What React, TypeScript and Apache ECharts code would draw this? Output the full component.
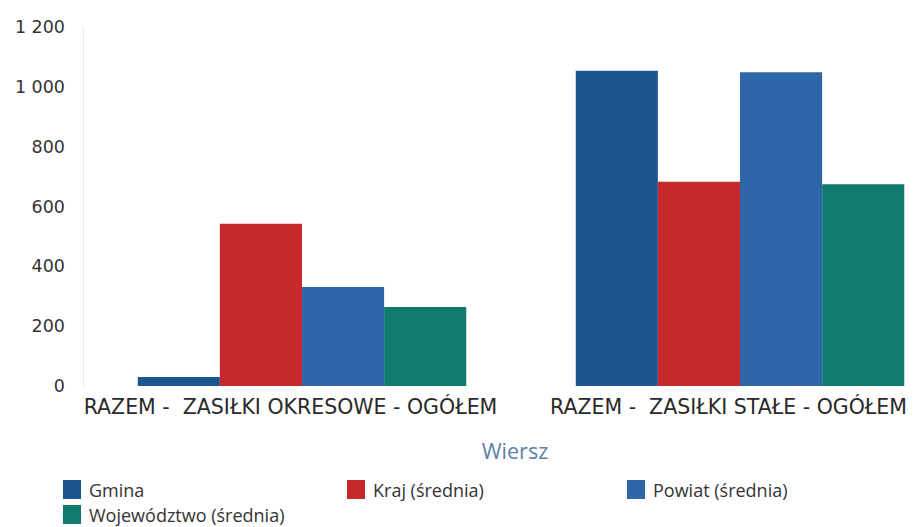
import React, { useEffect, useRef } from "react";
import * as echarts from "echarts";

const categories = ["RAZEM -  ZASIŁKI OKRESOWE - OGÓŁEM", "RAZEM -  ZASIŁKI STAŁE - OGÓŁEM"];
const seriesNames = ["Gmina", "Kraj (średnia)", "Powiat (średnia)", "Województwo (średnia)"];
const gmina = [30, 1054];
const kraj = [542, 683];
const powiat = [331, 1049];
const wojewodztwo = [264, 674];
const yTicks = [0, 200, 400, 600, 800, 1000, 1200];

const colors = ["#1c5690", "#c7282b", "#2e66a8", "#0f7a6d"];

export default function App() {
  const ref = useRef<HTMLDivElement>(null);
  useEffect(() => {
    if (!ref.current) return;
    const chart = echarts.init(ref.current, undefined, { renderer: "svg" });
    const values = [gmina, kraj, powiat, wojewodztwo];
    const legendLefts = [63, 347, 627, 63];
    const legendTops = [480, 480, 480, 505];
    chart.setOption({
      animation: false,
      textStyle: { fontFamily: "DejaVu Sans" },
      grid: { left: 83, right: 0, top: 27, bottom: 141, containLabel: false },
      legend: seriesNames.map((n, i) => ({
        data: [n],
        left: legendLefts[i],
        top: legendTops[i],
        padding: 0,
        icon: "rect",
        itemWidth: 18,
        itemHeight: 19,
        itemGap: 4,
        textStyle: { fontSize: 18, lineHeight: 18, color: "#333", fontFamily: "Open Sans", padding: [0, 0, 0, 3] },
      })),
      xAxis: {
        type: "category",
        data: categories,
        name: "Wiersz",
        nameLocation: "middle",
        nameGap: 53,
        nameTextStyle: { fontSize: 21.5, color: "#5f7fa6", fontFamily: "Open Sans", padding: [0, 12, 0, 0] },
        axisLine: { show: false },
        axisTick: { show: false },
        axisLabel: {
          fontSize: 20.5,
          color: "#2a2a2a",
          margin: 10,
          padding: [0, 23, 0, 0],
          interval: 0,
          fontFamily: "DejaVu Sans",
        },
      },
      yAxis: {
        type: "value",
        min: 0,
        max: 1200,
        interval: 200,
        axisLine: { show: true, lineStyle: { color: "#ececec", width: 1 } },
        axisTick: { show: false },
        splitLine: { show: false },
        axisLabel: {
          fontSize: 17.5,
          color: "#333",
          margin: 18,
          fontFamily: "DejaVu Sans",
          formatter: (v: number) => (yTicks.includes(v) ? String(v).replace(/\B(?=(\d{3})+(?!\d))/g, " ") : ""),
        },
      },
      series: seriesNames.map((n, i) => ({
        name: n,
        type: "bar",
        data: values[i],
        barGap: "0%",
        barCategoryGap: "25%",
        itemStyle: { color: colors[i] },
      })),
    });
    return () => chart.dispose();
  }, []);
  return (
    <div style={{ position: "fixed", left: 0, top: 0, width: 913, height: 527, overflow: "hidden", background: "#fff" }}>
      <div ref={ref} style={{ width: 959, height: 527 }} />
    </div>
  );
}
